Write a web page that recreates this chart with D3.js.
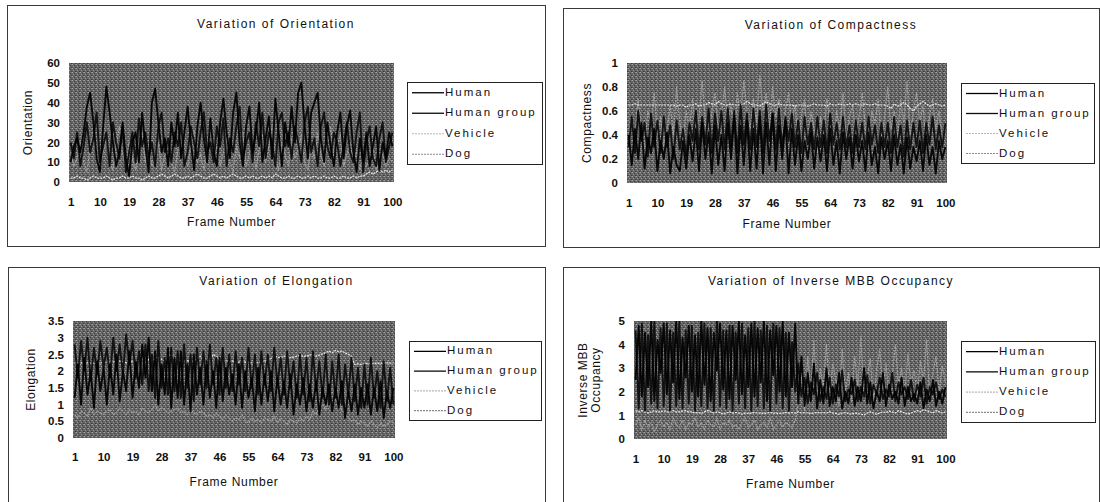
<!DOCTYPE html>
<html><head><meta charset="utf-8">
<script src="https://cdn.jsdelivr.net/npm/d3@7"></script>
<style>
html,body{margin:0;padding:0;background:#fff;}
svg text{font-family:"Liberation Sans",Arial,sans-serif;fill:#111;}
</style></head>
<body>
<svg id="c" width="1100" height="502"></svg>
<script>
// ---- data ----
const frames = d3.range(1, 101);
const xTickLabels = [1, 10, 19, 28, 37, 46, 55, 64, 73, 82, 91, 100];
const seriesNames = ["Human", "Human group", "Vehicle", "Dog"];

const orientTicks = [0, 10, 20, 30, 40, 50, 60];
const orientHuman = [10,18,22,15,25,38,45,30,12,5, 28,48,35,20,8,15,30,12,3,20, 25,10,35,18,5,40,47,30,15,22, 8,30,18,35,12,25,38,20,6,28,
  40,22,10,32,15,8,30,42,25,12, 35,45,20,8,28,38,15,25,40,10, 22,33,12,42,25,8,30,18,38,20, 45,50,28,12,35,40,45,22,10,30, 18,8,25,35,12,28,36,15,5,22, 10,25,8,18,28,6,20,12,25,18];
const orientGroup = [20,12,25,8,18,30,15,22,35,10, 18,25,8,30,20,12,28,5,15,25, 10,32,18,25,12,20,8,28,35,15, 22,10,25,18,30,8,15,28,20,12,
  25,35,15,20,10,28,18,32,8,22, 15,28,38,12,20,25,10,30,18,35, 12,25,20,8,30,35,18,25,12,28, 20,10,30,38,15,22,8,28,35,18, 12,25,20,8,18,30,15,10,25,35, 5,20,28,12,8,22,30,10,18,25];
const orientVehicle = [2,2,3,2,2,1,2,3,2,2, 2,3,2,1,2,2,3,2,2,3, 2,2,1,2,3,2,2,3,4,3, 2,3,4,3,2,2,3,2,3,4, 3,2,2,3,4,3,2,3,2,3,
  4,3,2,2,3,2,3,2,2,3, 2,3,2,4,3,2,2,3,2,2, 3,2,2,3,2,3,2,2,3,2, 2,3,2,2,3,2,2,3,2,3, 3,4,5,4,5,6,5,6,5,6];
const orientDog = [15,8,12,20,10,5,18,25,12,8, 15,22,10,6,18,28,14,8,20,12, 6,15,25,10,18,8,12,20,6,14, 22,10,5,16,24,12,8,18,26,10,
  14,6,20,28,12,18,8,15,22,10, 5,18,12,25,8,14,20,6,16,24, 10,18,28,12,6,20,14,8,22,12, 16,24,10,6,18,12,25,14,8,20, 28,12,18,24,8,14,20,10,16,6, 14,8,12,18,6,10,14,8,12,10];

const compTicks = [0, 0.2, 0.4, 0.6, 0.8, 1];
const compTickLabels = ["0", "0.2", "0.4", "0.6", "0.8", "1"];
const compHuman = [0.4,0.15,0.45,0.2,0.5,0.12,0.38,0.25,0.45,0.1, 0.35,0.2,0.42,0.08,0.3,0.15,0.1,0.35,0.12,0.4, 0.18,0.45,0.1,0.5,0.2,0.42,0.08,0.48,0.15,0.4,
  0.1,0.5,0.2,0.55,0.08,0.48,0.15,0.52,0.1,0.45, 0.12,0.55,0.08,0.5,0.15,0.58,0.1,0.48,0.2,0.52, 0.08,0.45,0.15,0.4,0.1,0.35,0.2,0.42,0.12,0.38,
  0.18,0.4,0.1,0.45,0.15,0.35,0.08,0.42,0.2,0.38, 0.12,0.4,0.18,0.35,0.1,0.42,0.15,0.3,0.08,0.38, 0.2,0.35,0.1,0.4,0.15,0.32,0.08,0.38,0.12,0.3, 0.18,0.35,0.1,0.4,0.15,0.3,0.08,0.35,0.2,0.3];
const compGroup = [0.3,0.55,0.25,0.6,0.35,0.5,0.22,0.58,0.3,0.52, 0.25,0.55,0.3,0.48,0.2,0.52,0.28,0.45,0.22,0.5, 0.35,0.6,0.28,0.55,0.32,0.62,0.25,0.58,0.35,0.6,
  0.28,0.62,0.3,0.6,0.25,0.65,0.32,0.58,0.28,0.62, 0.3,0.6,0.25,0.65,0.35,0.58,0.28,0.62,0.3,0.55, 0.35,0.58,0.3,0.52,0.25,0.55,0.32,0.5,0.28,0.55,
  0.3,0.52,0.25,0.58,0.32,0.5,0.28,0.55,0.3,0.48, 0.25,0.52,0.3,0.5,0.28,0.55,0.32,0.48,0.25,0.5, 0.3,0.5,0.25,0.55,0.3,0.48,0.22,0.52,0.28,0.5, 0.3,0.52,0.25,0.5,0.32,0.55,0.28,0.48,0.3,0.5];
const compVehicle = [0.65,0.65,0.66,0.65,0.65,0.65,0.65,0.65,0.65,0.65, 0.65,0.65,0.65,0.65,0.65,0.64,0.65,0.65,0.63,0.65, 0.65,0.66,0.64,0.65,0.65,0.67,0.66,0.65,0.68,0.66,
  0.65,0.65,0.66,0.65,0.65,0.65,0.66,0.68,0.66,0.65, 0.65,0.64,0.66,0.68,0.66,0.65,0.65,0.66,0.65,0.65, 0.65,0.65,0.64,0.65,0.65,0.65,0.64,0.65,0.66,0.65,
  0.65,0.65,0.64,0.66,0.65,0.65,0.66,0.65,0.65,0.66, 0.65,0.66,0.65,0.65,0.66,0.65,0.65,0.66,0.65,0.65, 0.65,0.64,0.62,0.66,0.64,0.65,0.67,0.65,0.62,0.6, 0.64,0.66,0.68,0.66,0.64,0.65,0.66,0.65,0.64,0.65];
const compDog = [0.35,0.55,0.4,0.7,0.45,0.3,0.6,0.5,0.75,0.4, 0.55,0.3,0.45,0.65,0.4,0.8,0.5,0.35,0.6,0.45, 0.7,0.4,0.55,0.85,0.5,0.35,0.6,0.75,0.45,0.55,
  0.8,0.5,0.65,0.4,0.75,0.55,0.85,0.6,0.45,0.7, 0.5,0.9,0.6,0.75,0.45,0.8,0.55,0.7,0.4,0.6, 0.75,0.5,0.65,0.35,0.55,0.7,0.3,0.6,0.45,0.25,
  0.55,0.4,0.7,0.5,0.3,0.6,0.45,0.75,0.35,0.55, 0.65,0.4,0.55,0.75,0.45,0.3,0.6,0.5,0.7,0.35, 0.55,0.8,0.45,0.6,0.35,0.7,0.5,0.85,0.4,0.6, 0.75,0.5,0.65,0.3,0.55,0.7,0.45,0.6,0.35,0.5];

const elongTicks = [0, 0.5, 1, 1.5, 2, 2.5, 3, 3.5];
const elongTickLabels = ["0", "0.5", "1", "1.5", "2", "2.5", "3", "3.5"];
const elongHuman = [1.2,2.2,1.0,2.4,1.3,2.0,0.9,2.3,1.4,2.1, 1.0,2.2,1.3,2.5,1.1,2.0,1.4,2.6,1.2,2.3, 1.5,2.8,1.8,3.0,1.4,2.6,1.0,2.2,1.3,2.7,
  0.9,2.4,1.2,2.6,1.0,2.2,0.8,2.5,1.3,2.1, 1.0,2.3,1.2,2.0,0.9,2.4,1.1,2.1,1.3,1.9, 1.0,2.2,0.9,2.0,1.2,1.8,0.8,2.1,1.0,1.9,
  1.1,2.0,0.8,1.8,1.0,1.7,0.9,1.9,0.7,1.6, 1.0,1.8,0.8,1.6,0.9,1.7,0.7,1.5,1.0,1.6, 0.8,1.5,0.9,1.7,0.6,1.4,0.8,1.6,0.7,1.5, 0.9,1.6,0.7,1.5,0.8,1.7,0.6,1.4,0.9,1.5];
const elongGroup = [2.8,1.8,2.9,2.0,3.0,1.7,2.7,1.9,2.9,2.1, 2.7,1.8,3.0,2.0,2.8,1.9,3.1,2.2,2.9,1.8, 2.6,1.6,2.8,1.4,2.5,1.2,2.9,1.5,2.4,1.3,
  2.7,1.4,2.6,1.2,2.8,1.5,2.5,1.1,2.7,1.6, 2.6,1.5,2.8,1.6,2.4,1.3,2.7,1.5,2.5,1.4, 2.6,1.6,2.4,1.4,2.7,1.5,2.5,1.3,2.6,1.6,
  2.5,1.4,2.7,1.6,2.4,1.3,2.6,1.5,2.3,1.2, 2.5,1.3,2.4,1.1,2.6,1.4,2.3,1.2,2.5,1.0, 2.3,1.2,2.5,1.0,2.2,1.3,2.4,1.1,2.1,0.9, 2.2,1.0,2.4,1.2,2.0,0.9,2.3,1.1,2.1,1.0];
const elongVehicle = [2.25,2.25,2.25,2.24,2.25,2.24,2.23,2.23,2.25,2.26, 2.27,2.3,2.28,2.3,2.3,2.28,2.25,2.26,2.28,2.3, 2.32,2.35,2.4,2.35,2.3,2.38,2.42,2.35,2.3,2.45,
  2.5,2.4,2.35,2.3,2.28,2.32,2.25,2.3,2.38,2.45, 2.3,2.2,2.35,2.5,2.45,2.35,2.3,2.32,2.28,2.3, 2.28,2.27,2.28,2.27,2.26,2.25,2.26,2.25,2.28,2.3,
  2.32,2.38,2.45,2.42,2.4,2.45,2.43,2.4,2.42,2.45, 2.47,2.44,2.45,2.48,2.5,2.45,2.48,2.52,2.55,2.6, 2.55,2.62,2.58,2.6,2.55,2.5,2.45,2.2,2.22,2.2, 2.22,2.23,2.22,2.23,2.24,2.23,2.24,2.25,2.24,2.25];
const elongDog = [0.7,0.6,0.8,0.75,0.65,0.9,0.7,0.8,0.75,0.7, 0.8,0.85,0.7,0.75,0.9,0.8,0.7,0.85,0.75,0.8, 0.7,0.9,0.8,0.75,0.85,1.0,0.8,0.9,0.85,0.75,
  0.8,0.85,0.9,0.75,0.8,0.7,0.85,0.75,0.7,0.8, 0.75,0.65,0.7,0.6,0.75,0.65,0.55,0.7,0.6,0.5, 0.6,0.55,0.7,0.5,0.45,0.6,0.5,0.55,0.45,0.6,
  0.55,0.5,0.65,0.45,0.6,0.5,0.4,0.55,0.5,0.45, 0.6,0.5,0.65,0.55,0.8,0.7,0.9,1.0,0.85,1.1, 0.9,1.2,1.0,0.85,0.7,0.6,0.5,0.55,0.4,0.5, 0.45,0.35,0.5,0.4,0.3,0.45,0.35,0.4,0.5,0.45];

const mbbTicks = [0, 1, 2, 3, 4, 5];
const mbbHuman = [2.5,4.8,1.8,4.5,2.2,5.0,1.6,4.2,2.8,4.9, 1.9,4.6,2.4,5.0,1.7,4.3,2.6,4.8,2.0,4.4, 1.8,5.0,2.3,4.7,1.6,4.5,2.9,4.9,2.1,4.6,
  1.7,4.8,2.5,5.0,1.9,4.4,2.2,4.9,1.8,4.7, 2.4,5.0,1.6,4.6,2.7,4.8,2.0,5.0,1.8,4.5, 2.2,4.9,1.5,3.5,1.4,2.8,1.6,3.2,1.3,2.5,
  1.5,3.0,1.4,2.2,1.6,2.8,1.3,2.0,1.5,2.6, 1.4,2.2,1.6,3.0,1.5,2.4,1.3,2.0,1.6,2.8, 1.4,2.3,1.7,2.0,1.5,2.6,1.4,2.2,1.6,1.9, 1.5,2.4,1.3,2.1,1.6,2.5,1.4,2.0,1.5,2.2];
const mbbGroup = [4.6,1.3,4.9,1.2,4.4,1.5,5.0,1.3,4.7,1.4, 4.9,1.2,4.5,1.4,5.0,1.3,4.6,1.5,4.8,1.2, 4.5,1.4,4.9,1.3,4.7,1.2,5.0,1.4,4.6,1.3,
  4.8,1.2,4.5,1.5,4.9,1.3,4.7,1.2,5.0,1.4, 4.6,1.3,4.8,1.2,4.9,1.5,4.7,1.3,4.5,1.2, 4.1,2.0,3.2,1.8,2.6,1.5,2.4,1.9,2.8,1.6,
  2.2,1.7,2.6,1.5,2.3,1.8,2.9,1.6,2.1,1.9, 2.5,1.6,2.2,1.8,2.7,1.5,2.3,1.9,2.6,1.7, 2.1,1.8,2.8,1.6,2.4,1.9,2.2,1.7,2.5,1.6, 2.3,1.8,2.6,1.5,2.2,1.9,2.4,1.7,2.1,1.8];
const mbbVehicle = [1.2,1.15,1.2,1.15,1.1,1.15,1.2,1.15,1.15,1.2, 1.15,1.15,1.2,1.15,1.15,1.18,1.2,1.15,1.15,1.1, 1.12,1.08,1.15,1.2,1.15,1.1,1.15,1.12,1.05,1.1,
  1.15,1.1,1.12,1.1,1.05,1.1,1.08,1.1,1.12,1.1, 1.1,1.08,1.1,1.12,1.1,1.1,1.08,1.1,1.12,1.1, 1.12,1.1,1.15,1.1,1.12,1.1,1.08,1.1,1.12,1.1,
  1.12,1.1,1.15,1.1,1.08,1.05,1.1,1.12,1.08,1.05, 1.1,1.08,1.05,1.02,1.1,1.15,1.1,1.05,1.1,1.15, 1.12,1.18,1.15,1.1,1.2,1.15,1.1,1.05,1.1,1.15, 1.2,1.15,1.25,1.2,1.15,1.1,1.2,1.15,1.1,1.15];
const mbbDog = [0.6,0.9,0.4,0.8,0.5,0.7,0.3,0.6,0.8,0.5, 0.7,0.4,0.9,0.6,0.5,0.8,0.4,0.7,0.6,0.9, 0.5,0.7,0.4,0.8,0.6,0.5,0.9,0.4,0.7,0.6,
  0.8,0.5,0.6,0.4,0.7,0.9,0.5,0.6,0.8,0.4, 0.6,0.7,0.5,0.9,0.4,0.6,0.8,0.5,0.7,0.6, 0.5,0.8,1.5,2.8,1.2,3.5,2.0,4.2,1.5,3.0,
  2.2,4.0,1.8,3.2,2.5,1.4,3.8,2.0,2.8,1.6, 3.5,2.2,4.4,1.8,2.6,3.4,1.5,2.9,3.8,2.1, 3.2,1.7,2.7,4.0,2.3,3.0,1.8,3.6,2.4,2.9, 1.9,3.3,2.5,4.2,1.6,2.8,3.5,2.0,3.1,2.4];

// ---- layout / styles (not data) ----
const seriesStyle = [
  {stroke:"#000", width:1.9, dash:null},
  {stroke:"#0c0c0c", width:1.9, dash:null},
  {stroke:"#e8e8e8", width:1.2, dash:"2,1"},
  {stroke:"#a0a0a0", width:1.2, dash:"2,1"}
];

const panels = [
  {title:"Variation of Orientation", yTitle:["Orientation"], series:[orientHuman, orientGroup, orientVehicle, orientDog],
   ticks:orientTicks, tickLabels:orientTicks.map(String), ymax:60,
   box:[7,5,545,246], plot:[69,63,394,182], legend:[407,82,542,164], titleY:25, yTitleX:29, xTitleY:223, xLabY:202},
  {title:"Variation of Compactness", yTitle:["Compactness"], series:[compHuman, compGroup, compVehicle, compDog],
   ticks:compTicks, tickLabels:compTickLabels, ymax:1,
   box:[563,8,1099,247], plot:[627,63,947,183], legend:[961,83,1094,163], titleY:26, yTitleX:588, xTitleY:225, xLabY:203},
  {title:"Variation of Elongation", yTitle:["Elongation"], series:[elongHuman, elongGroup, elongVehicle, elongDog],
   ticks:elongTicks, tickLabels:elongTickLabels, ymax:3.5,
   box:[8,267,545,520], plot:[73,321,395,438], legend:[409,341,541,420], titleY:282, yTitleX:32, xTitleY:483, xLabY:457},
  {title:"Variation of Inverse MBB Occupancy", yTitle:["Inverse MBB","Occupancy"], series:[mbbHuman, mbbGroup, mbbVehicle, mbbDog],
   ticks:mbbTicks, tickLabels:mbbTicks.map(String), ymax:5,
   box:[563,267,1099,520], plot:[634,321,947,439], legend:[961,341,1095,422], titleY:282, yTitleX:590, xTitleY:485, xLabY:459}
];

const svg = d3.select("#c");
const defs = svg.append("defs");
const pat = defs.append("pattern").attr("id","dither").attr("width",4).attr("height",4).attr("patternUnits","userSpaceOnUse");
pat.append("rect").attr("width",4).attr("height",4).attr("fill","#646464");
[[0,0,"#a4a4a4"],[2,1,"#444"],[1,2,"#969696"],[3,3,"#3c3c3c"],[3,0,"#848484"],[0,3,"#505050"]].forEach(([x,y,c])=>
  pat.append("rect").attr("x",x).attr("y",y).attr("width",1).attr("height",1).attr("fill",c));

panels.forEach((p, pi) => {
  const g = svg.append("g");
  const [bx0,by0,bx1,by1] = p.box;
  g.append("rect").attr("x",bx0+0.5).attr("y",by0+0.5).attr("width",bx1-bx0).attr("height",by1-by0)
    .attr("fill","#fff").attr("stroke","#3a3a3a").attr("stroke-width",1);

  const [px0,py0,px1,py1] = p.plot;
  const x = d3.scalePoint().domain(frames).range([px0,px1]).padding(0.5);
  const y = d3.scaleLinear().domain([0,p.ymax]).range([py1,py0]);

  // title
  g.append("text").attr("x",(bx0+bx1)/2).attr("y",p.titleY).attr("text-anchor","middle")
    .attr("dominant-baseline","middle").style("font-size","12px").style("letter-spacing","1.5px").text(p.title);

  // plot area
  g.append("rect").attr("x",px0).attr("y",py0).attr("width",px1-px0).attr("height",py1-py0).attr("fill","url(#dither)");

  const clipId = "clip"+pi;
  defs.append("clipPath").attr("id",clipId).append("rect").attr("x",px0).attr("y",py0).attr("width",px1-px0).attr("height",py1-py0);

  const line = d3.line().x((d,i)=>x(frames[i])).y(d=>y(d));
  const order = [3,2,1,0];
  order.forEach(si => {
    const st = seriesStyle[si];
    g.append("path").attr("clip-path",`url(#${clipId})`).datum(p.series[si]).attr("d",line)
      .attr("fill","none").attr("stroke",st.stroke).attr("stroke-width",st.width)
      .attr("stroke-dasharray",st.dash).attr("stroke-linejoin","round").attr("opacity", si<2 ? 0.92 : 1);
  });

  // y axis labels (no ticks)
  const yAxis = d3.axisLeft(y).tickValues(p.ticks).tickFormat((d,i)=>p.tickLabels[i]).tickSize(0).tickPadding(9);
  const ya = g.append("g").attr("transform",`translate(${px0},0)`).call(yAxis);
  ya.select(".domain").remove();
  ya.selectAll("text").style("font-size","11.5px").style("font-weight","bold")
    .style("font-family","\"Liberation Sans\",Arial,sans-serif").attr("fill","#111");

  // x axis labels
  const xAxis = d3.axisBottom(x).tickValues(xTickLabels).tickSize(0).tickPadding(0);
  const xa = g.append("g").attr("transform",`translate(0,${p.xLabY})`).call(xAxis);
  xa.select(".domain").remove();
  xa.selectAll("text").attr("dy","0.35em").attr("y",0).style("font-size","11.5px").style("font-weight","bold")
    .style("font-family","\"Liberation Sans\",Arial,sans-serif").attr("fill","#111");

  // axis titles
  g.append("text").attr("x",(px0+px1)/2).attr("y",p.xTitleY).attr("text-anchor","middle").attr("dominant-baseline","middle")
    .style("font-size","12px").style("letter-spacing","0.7px").text("Frame Number");
  const cy = (py0+py1)/2;
  p.yTitle.forEach((t,k) => {
    const xx = p.yTitle.length===1 ? p.yTitleX : p.yTitleX + (k-0.5)*13;
    g.append("text").attr("transform",`translate(${xx},${cy}) rotate(-90)`).attr("text-anchor","middle")
      .attr("dominant-baseline","middle").style("font-size","12px").style("letter-spacing","0.6px").text(t);
  });

  // legend
  const [lx0,ly0,lx1,ly1] = p.legend;
  g.append("rect").attr("x",lx0+0.5).attr("y",ly0+0.5).attr("width",lx1-lx0).attr("height",ly1-ly0)
    .attr("fill","#fff").attr("stroke","#222").attr("stroke-width",1);
  const step = (ly1-ly0)/4;
  seriesNames.forEach((name,si) => {
    const yy = ly0 + step*(si+0.5) + 0.5;
    const st = seriesStyle[si];
    g.append("line").attr("x1",lx0+5).attr("x2",lx0+37).attr("y1",yy).attr("y2",yy)
      .attr("stroke", si===2 ? "#b8b8b8" : (si===3 ? "#8a8a8a" : st.stroke)).attr("stroke-width", si<2 ? 1.3 : 1.2)
      .attr("stroke-dasharray",st.dash);
    g.append("text").attr("x",lx0+38).attr("y",yy).attr("dominant-baseline","middle")
      .style("font-size","11.5px").style("letter-spacing","2px").text(name);
  });
});
</script>
</body></html>
